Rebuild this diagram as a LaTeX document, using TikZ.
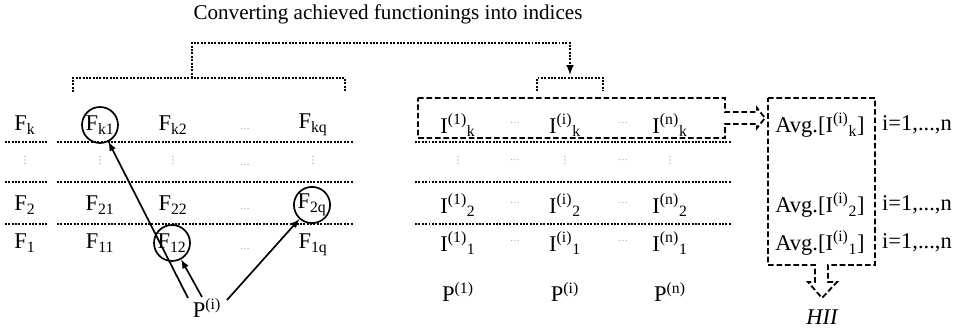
\documentclass[tikz,border=0pt]{standalone}
\usepackage{fontspec}
\setmainfont{Liberation Serif}
\newfontfamily\symfont{DejaVu Sans}
\usetikzlibrary{arrows,positioning,calc}

\newcommand{\coldots}{{\symfont ⋮}}

\begin{document}
\begin{tikzpicture}[
    cell/.style={inner sep=1pt, font=\fontsize{16}{19}\selectfont},
    pick/.style={cell, circle, draw, line width=1.2pt, inner sep=0pt, minimum size=0.9cm},
    gdots/.style={inner sep=0pt, text=gray!80, font=\scriptsize},
    rowline/.style={densely dotted, line width=1.4pt},
    bracket/.style={densely dotted, line width=1.4pt},
    outline/.style={line width=1.3pt, dash pattern=on 4pt off 2pt},
    arr/.style={-latex, line width=1.2pt}]
        \useasboundingbox (0,0) rectangle (24,8.225);

        % title and brackets
        \node[cell, font=\fontsize{15}{18}\selectfont] (title) at (9.7,7.875) {Converting achieved functionings into indices};
        \draw[bracket] (1.825,5.925) -- (1.825,6.275) -- (8.625,6.275) -- (8.625,5.925);
        \draw[bracket] (13.425,5.95) -- (13.425,6.275) -- (15.075,6.275) -- (15.075,5.95);
        \coordinate (lbr) at (4.8,6.275);
        \coordinate (rbr) at (14.25,6.35);
        \draw[bracket, -latex] (lbr) |- (9.5,7.15) -| (rbr);

        % achieved functionings
        \node[cell] (fk)  at (0.625,5.1) {F\textsubscript{k}};
        \node[pick] (fk1) at (2.5,5.1)   {F\textsubscript{k1}};
        \node[cell] (fk2) at (4.325,5.1) {F\textsubscript{k2}};
        \node[gdots] (fkd) at (6.125,5.0) {\dots};
        \node[cell] (fkq) at (7.825,5.1) {F\textsubscript{kq}};

        \node[gdots] (v0) at (0.625,4.225) {\coldots};
        \node[gdots] (v1) at (2.5,4.225)   {\coldots};
        \node[gdots] (v2) at (4.325,4.225) {\coldots};
        \node[gdots] (vd) at (6.125,4.1)   {\dots};
        \node[gdots] (vq) at (7.825,4.225) {\coldots};

        \node[cell] (f2)  at (0.625,3.1) {F\textsubscript{2}};
        \node[cell] (f21) at (2.5,3.1)   {F\textsubscript{21}};
        \node[cell] (f22) at (4.325,3.1) {F\textsubscript{22}};
        \node[gdots] (f2d) at (6.125,3.0) {\dots};
        \node[pick] (f2q) at (7.8,3.1)   {F\textsubscript{2q}};

        \node[cell] (f1)  at (0.625,2.15) {F\textsubscript{1}};
        \node[cell] (f11) at (2.5,2.15)   {F\textsubscript{11}};
        \node[pick] (f12) at (4.3,2.15)   {F\textsubscript{12}};
        \node[gdots] (f1d) at (6.125,2.0) {\dots};
        \node[cell] (f1q) at (7.825,2.1)  {F\textsubscript{1q}};

        \foreach \y in {4.675,3.675,2.625} {
            \draw[rowline] (0.125,\y) -- (1.175,\y);
            \draw[rowline] (1.425,\y) -- (8.825,\y);
            \draw[rowline] (10.375,\y) -- (18.3,\y);
        }

        \node[cell] (pi) at (5.175,0.525) {P\textsuperscript{(i)}};
        \draw[arr] ($(pi.center)+(-0.475,0.25)$) -- (fk1);
        \draw[arr] ($(pi.center)+(-0.125,0.275)$) -- (f12);
        \draw[arr] ($(pi.center)+(0.5,0.2)$) -- (f2q);

        % indices
        \node[cell] (ik1) at (11.45,5.1)  {I\textsuperscript{(1)}\textsubscript{k}};
        \node[gdots] (ikd) at (12.875,5.15) {\dots};
        \node[cell] (iki) at (14.125,5.1) {I\textsuperscript{(i)}\textsubscript{k}};
        \node[gdots] (ike) at (15.575,5.15) {\dots};
        \node[cell] (ikn) at (16.75,5.1)  {I\textsuperscript{(n)}\textsubscript{k}};

        \node[gdots] (w1) at (11.45,4.225)  {\coldots};
        \node[gdots] (wd) at (12.875,4.225) {\dots};
        \node[gdots] (wi) at (14.125,4.225) {\coldots};
        \node[gdots] (we) at (15.575,4.225) {\dots};
        \node[gdots] (wn) at (16.75,4.225)  {\coldots};

        \node[cell] (i21) at (11.45,3.1)  {I\textsuperscript{(1)}\textsubscript{2}};
        \node[gdots] (i2d) at (12.875,3.15) {\dots};
        \node[cell] (i2i) at (14.125,3.1) {I\textsuperscript{(i)}\textsubscript{2}};
        \node[gdots] (i2e) at (15.575,3.15) {\dots};
        \node[cell] (i2n) at (16.75,3.1)  {I\textsuperscript{(n)}\textsubscript{2}};

        \node[cell] (i11) at (11.45,2.15)  {I\textsuperscript{(1)}\textsubscript{1}};
        \node[gdots] (i1d) at (12.875,2.2) {\dots};
        \node[cell] (i1i) at (14.125,2.15) {I\textsuperscript{(i)}\textsubscript{1}};
        \node[gdots] (i1e) at (15.575,2.2) {\dots};
        \node[cell] (i1n) at (16.75,2.15)  {I\textsuperscript{(n)}\textsubscript{1}};

        \node[cell] (p1) at (11.45,0.925)  {P\textsuperscript{(1)}};
        \node[cell] (pp) at (14.125,0.925) {P\textsuperscript{(i)}};
        \node[cell] (pn) at (16.75,0.925)  {P\textsuperscript{(n)}};

        % selected row and its block arrow
        \draw[outline] (10.45,5.775) -- (18.125,5.775) -- (18.125,5.425) -- (18.925,5.425) -- (18.925,5.525)
            -- (19.125,5.275) -- (18.925,5.025) -- (18.925,5.125) -- (18.125,5.125) -- (18.125,4.775)
            -- (10.45,4.775) -- cycle;

        % averages
        \node[cell] (avk) at (20.5,5.1)  {Avg.[I\textsuperscript{(i)}\textsubscript{k}]};
        \node[cell] (av2) at (20.5,3.1)  {Avg.[I\textsuperscript{(i)}\textsubscript{2}]};
        \node[cell] (av1) at (20.5,2.15) {Avg.[I\textsuperscript{(i)}\textsubscript{1}]};
        \node[cell] (rk) at (22.925,5.1)  {i=1,...,n};
        \node[cell] (r2) at (22.925,3.1)  {i=1,...,n};
        \node[cell] (r1) at (22.925,2.15) {i=1,...,n};

        \draw[outline] (19.2,5.775) -- (21.875,5.775) -- (21.875,1.6) -- (20.7,1.6) -- (20.7,1.175)
            -- (20.925,1.175) -- (20.55,0.775) -- (20.2,1.175) -- (20.375,1.175) -- (20.375,1.6)
            -- (19.2,1.6) -- cycle;

        \node[cell, font=\fontsize{16}{19}\selectfont\itshape] (hii) at (20.55,0.3) {HII};
    \end{tikzpicture}
\end{document}
